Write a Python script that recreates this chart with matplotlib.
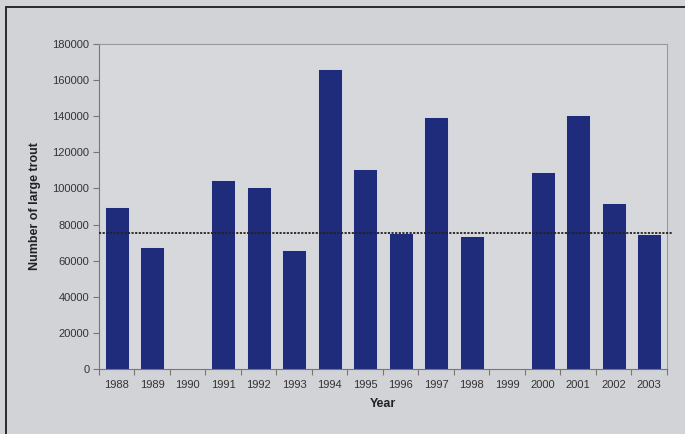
import matplotlib.pyplot as plt
from matplotlib.patches import Rectangle
import numpy as np

# dados
anos = ['1988', '1989', '1990', '1991', '1992', '1993', '1994', '1995',
        '1996', '1997', '1998', '1999', '2000', '2001', '2002', '2003']
trutas = [89500, 67500, 0, 104800, 100700, 66100, 165900, 110500,
          75400, 139600, 73500, 0, 109300, 140600, 91900, 74600]
media_ref = 75500

fundo = '#d1d3d7'
cor_barra = '#1f2b7b'

plt.rcParams['font.family'] = ['Liberation Sans', 'DejaVu Sans']

fig = plt.figure(figsize=(6.85, 4.34), dpi=100, facecolor=fundo)
ax = fig.add_axes([0.1445, 0.1498, 0.8292, 0.7488])
ax.set_facecolor('#d6d8db')

# moldura externa
fig.patches.append(Rectangle((6 / 685, -0.05), 1.1, 1 - 7 / 434 + 0.05,
                             transform=fig.transFigure, fill=False,
                             edgecolor='#2a2a2a', linewidth=1.4))

x = np.arange(len(anos))
ax.bar(x, trutas, width=0.67, color=cor_barra, edgecolor='#e4e6ea',
       linewidth=0.6, zorder=2)
ax.axhline(media_ref, xmin=0, xmax=1.008, color='#222222', linestyle=(0, (1.2, 0.8)),
           linewidth=1.3, clip_on=False, zorder=3)

ax.set_xlim(-0.5, len(anos) - 0.5)
ax.set_ylim(0, 180000)
ax.set_yticks(np.arange(0, 180001, 20000))
ax.set_yticklabels([str(v) for v in range(0, 180001, 20000)], fontsize=8, color='#333333')

ax.set_xticks(np.arange(-0.5, len(anos), 1))
ax.set_xticklabels([])
ax.set_xticks(x, minor=True)
ax.set_xticklabels(anos, minor=True, fontsize=8, color='#333333')
ax.tick_params(axis='x', which='major', length=4, color='#777777', direction='out')
ax.tick_params(axis='x', which='minor', length=0, pad=8)
ax.tick_params(axis='y', length=4, color='#777777', direction='out', pad=3)

for s in ['top', 'right']:
    ax.spines[s].set_color('#9a9a9a')
    ax.spines[s].set_linewidth(0.8)
for s in ['left', 'bottom']:
    ax.spines[s].set_color('#777777')
    ax.spines[s].set_linewidth(0.8)

ax.set_xlabel('Year', fontsize=9, fontweight='bold', color='#222222', labelpad=6)
ax.set_ylabel('Number of large trout', fontsize=9, fontweight='bold', color='#222222', labelpad=8)

fig.savefig('out.png', dpi=100, facecolor=fundo)
